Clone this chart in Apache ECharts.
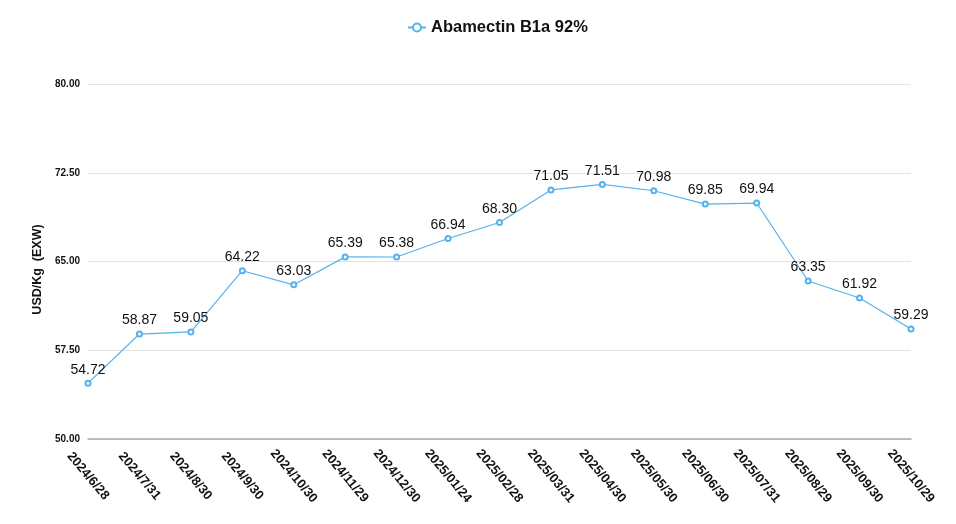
<!DOCTYPE html>
<html><head><meta charset="utf-8">
<script src="https://cdn.jsdelivr.net/npm/echarts@6/dist/echarts.min.js"></script>
<style>html,body{margin:0;padding:0;background:#fff}#c{width:956px;height:524px}</style>
</head><body><div id="c"></div>
<script>
const categories = ['2024/6/28','2024/7/31','2024/8/30','2024/9/30','2024/10/30','2024/11/29','2024/12/30','2025/01/24','2025/02/28','2025/03/31','2025/04/30','2025/05/30','2025/06/30','2025/07/31','2025/08/29','2025/09/30','2025/10/29'];
const prices = [54.72,58.87,59.05,64.22,63.03,65.39,65.38,66.94,68.30,71.05,71.51,70.98,69.85,69.94,63.35,61.92,59.29];
const seriesName = 'Abamectin B1a 92%';
const yAxisName = 'USD/Kg  (EXW)';
const font = 'Helvetica, Arial, "Liberation Sans", sans-serif';
const chart = echarts.init(document.getElementById('c'));
chart.setOption({
  animation:false,
  textStyle:{fontFamily:font},
  legend:{top:14,left:402,itemWidth:18,itemHeight:10,itemGap:10,
    textStyle:{fontSize:16.5,fontWeight:'bold',color:'#111',fontFamily:font},data:[seriesName]},
  grid:{left:88,right:45,top:84,bottom:85},
  xAxis:{type:'category',data:categories,boundaryGap:false,
    axisLine:{lineStyle:{color:'#aaa',width:1.5}},axisTick:{show:false},
    axisLabel:{rotate:-50,align:'center',verticalAlign:'middle',margin:37,fontSize:13,color:'#111',fontWeight:'bold',fontFamily:font,interval:0}},
  yAxis:{type:'value',min:50,max:80,interval:7.5,
    name:yAxisName,nameLocation:'middle',nameGap:37,
    nameTextStyle:{fontSize:12.5,fontWeight:'bold',color:'#111',fontFamily:font,padding:[0,16,0,0]},
    axisLine:{show:false},axisTick:{show:false},
    splitLine:{lineStyle:{color:'#e3e3e3'}},
    axisLabel:{formatter:v=>v.toFixed(2),fontSize:10,fontWeight:'bold',color:'#111',margin:8,fontFamily:font}},
  series:[{name:seriesName,type:'line',data:prices,symbol:'emptyCircle',symbolSize:5,
    itemStyle:{color:'#55b2ea'},lineStyle:{color:'#55b2ea',width:1.2},
    label:{show:true,position:'top',distance:3,fontSize:14,color:'#111',fontFamily:font,formatter:p=>p.value.toFixed(2)}}]
});
</script></body></html>
